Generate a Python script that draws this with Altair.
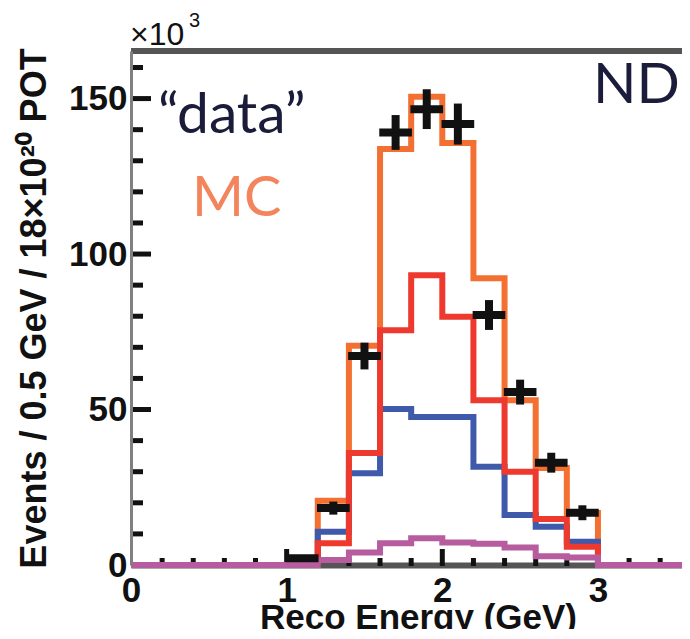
import altair as alt
import pandas as pd

# ---------------- data (x10^3 events) ----------------
bin_lo = [1.2, 1.4, 1.6, 1.8, 2.0, 2.2, 2.4, 2.6, 2.8]
bin_hi = 3.0
mc_total = [20.7, 70.5, 133.8, 150.6, 135.7, 92.2, 53.0, 31.2, 16.7]
mc_blue = [10.7, 29.5, 50.2, 47.6, 47.6, 31.6, 16.1, 12.3, 7.5]
mc_red = [7.0, 36.0, 75.5, 93.2, 79.8, 53.0, 30.0, 14.8, 5.9]
mc_purple = [1.6, 4.0, 7.0, 8.6, 7.2, 6.8, 5.6, 2.8, 2.4]

data_x = [1.1, 1.3, 1.5, 1.7, 1.9, 2.1, 2.3, 2.5, 2.7, 2.9]
data_y = [2.2, 18.3, 67.2, 139.1, 146.6, 141.8, 80.4, 55.6, 32.9, 16.8]
data_err = [0.8, 2.1, 4.3, 5.6, 6.4, 6.6, 4.8, 4.0, 3.2, 2.4]

x_labels = [0, 1, 2, 3]
y_labels = [0, 50, 100, 150]
x_major = [1, 2, 3]
x_minor = [0.2, 0.4, 0.6, 0.8, 1.2, 1.4, 1.6, 1.8, 2.2, 2.4, 2.6, 2.8, 3.2, 3.4]
y_major = [50, 100, 150]
y_minor = [10, 20, 30, 40, 60, 70, 80, 90, 110, 120, 130, 140, 160]

X_MAX = 3.54
Y_MAX = 165.3
W, H = 551, 514

FONT = "Liberation Sans"
INK = "#111111"


def step_frame(vals, lead=None, tail=None):
    xs, ys = [], []
    if lead is not None:
        xs.append(lead); ys.append(0.0)
    xs.append(bin_lo[0]); ys.append(0.0)
    for lo, v in zip(bin_lo, vals):
        xs.append(lo); ys.append(v)
    xs.append(bin_hi); ys.append(0.0)
    if tail is not None:
        xs.append(tail); ys.append(0.0)
    return pd.DataFrame({"x": xs, "y": ys, "i": list(range(len(xs)))})


xs = alt.Scale(domain=[0, X_MAX], nice=False, zero=False)
ys = alt.Scale(domain=[0, Y_MAX], nice=False, zero=False)

x_axis = alt.Axis(
    values=x_labels, ticks=False, grid=False, domainColor="#555555", domainWidth=6,
    labelFont=FONT, labelFontSize=35, labelFontWeight="bold", labelColor=INK,
    labelPadding=8, labelFlush=False, labelOverlap=False,
    title="Reco Energy (GeV)", titleFont=FONT, titleFontSize=35, titleFontWeight="bold",
    titleColor=INK, titleX=287, titleY=63, titleAlign="center", titleBaseline="alphabetic",
)
y_axis = alt.Axis(
    values=y_labels, ticks=False, grid=False, domainColor="#808080", domainWidth=3,
    labelFont=FONT, labelFontSize=35, labelFontWeight="bold", labelColor=INK,
    labelPadding=4, labelOverlap=False, zindex=1,
    title="Events / 0.5 GeV / 18×10²⁰ POT", titleFont=FONT, titleFontSize=36,
    titleFontWeight="bold", titleColor=INK, titleAngle=270, titleX=-86, titleY=257,
    titleAlign="center", titleBaseline="alphabetic",
)


def X(field):
    return alt.X(field, scale=xs, axis=x_axis)


def Y(field):
    return alt.Y(field, scale=ys, axis=y_axis)


def hist_layer(vals, color, **kw):
    df = step_frame(vals, **kw)
    return alt.Chart(df).mark_line(
        interpolate="step-after", color=color, strokeWidth=6, strokeJoin="miter"
    ).encode(x=X("x:Q"), y=Y("y:Q"), order="i:Q")


l_total = hist_layer(mc_total, "#F47032")
l_blue = hist_layer(mc_blue, "#3F5AAA")
l_red = hist_layer(mc_red, "#EE3A2E")
l_purple = hist_layer(mc_purple, "#B65C9F", lead=0.0, tail=X_MAX)

pts = pd.DataFrame({"x": data_x, "y": data_y, "e": data_err})
pts_base = alt.Chart(pts).transform_calculate(
    xl="datum.x - 0.105", xh="datum.x + 0.105", yl="datum.y - datum.e", yh="datum.y + datum.e"
)
d_h = pts_base.mark_rule(color=INK, strokeWidth=8).encode(
    x=X("xl:Q"), x2="xh:Q", y=Y("y:Q")
)
d_v = pts_base.mark_rule(color=INK, strokeWidth=8).encode(
    x=X("x:Q"), y=Y("yl:Q"), y2="yh:Q"
)


def yticks(vals, length):
    return alt.Chart(pd.DataFrame({"v": vals})).mark_rule(color=INK, strokeWidth=5).encode(
        y=Y("v:Q"), x=alt.value(1), x2=alt.value(length)
    )


def xticks(vals, length):
    return alt.Chart(pd.DataFrame({"v": vals})).mark_rule(color=INK, strokeWidth=5).encode(
        x=X("v:Q"), y=alt.value(H + 1), y2=alt.value(H - length)
    )


dummy = pd.DataFrame({"a": [0]})
top_border = alt.Chart(dummy).mark_rule(color="#555555", strokeWidth=6).encode(
    x=alt.value(0), x2=alt.value(W), y=alt.value(0)
)


def label(text, px, py, size, color, font="Lato", weight="normal"):
    return alt.Chart(dummy).mark_text(
        text=text, align="left", baseline="alphabetic", font=font, fontSize=size,
        color=color, fontWeight=weight
    ).encode(x=alt.value(px), y=alt.value(py))


t_data = label("“data”", 27, 82, 57, "#1B1B3A")
t_mc = label("MC", 61, 165, 56, "#F4845C")
t_nd = label("ND", 462, 52, 57, "#1B1B3A")
t_x10 = label("×10", -1, -6, 32, INK, font=FONT)
t_3 = label("3", 58, -24, 20, INK, font=FONT)

chart = alt.layer(
    xticks(x_major, 16), xticks(x_minor, 7),
    l_total, l_blue, l_red, l_purple,
    yticks(y_major, 20), yticks(y_minor, 12),
    d_h, d_v, top_border,
    t_data, t_mc, t_nd, t_x10, t_3,
).properties(
    width=W, height=H,
    padding={"left": 123, "top": 43, "right": 0, "bottom": 64},
    autosize=alt.AutoSizeParams(type="none"),
).configure_view(stroke="transparent")

chart.save("out.html", embed_options={"renderer": "svg", "actions": False})
